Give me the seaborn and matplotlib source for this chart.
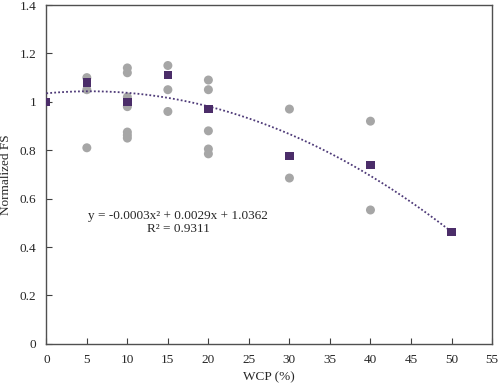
import matplotlib
matplotlib.use("Agg")
import matplotlib.pyplot as plt
import seaborn as sns
import pandas as pd
import numpy as np

sns.set_theme(style="white")
plt.rcParams['font.family'] = ['Liberation Serif', 'DejaVu Serif']

# individual specimens (grey dots)
wcp_all = [5, 5, 5,
           10, 10, 10, 10, 10, 10, 10,
           15, 15, 15,
           20, 20, 20, 20, 20,
           30, 30,
           40, 40]
fs_all = [1.10, 1.05, 0.81,
          1.14, 1.12, 1.02, 0.98, 0.875, 0.862, 0.85,
          1.15, 1.05, 0.96,
          1.09, 1.05, 0.88, 0.805, 0.785,
          0.97, 0.685,
          0.92, 0.553]

# mean values (purple squares)
wcp_mean = [0, 5, 10, 15, 20, 30, 40, 50]
fs_mean = [1.0, 1.08, 1.0, 1.11, 0.97, 0.777, 0.739, 0.461]

df_all = pd.DataFrame({'WCP': wcp_all, 'FS': fs_all})
df_mean = pd.DataFrame({'WCP': wcp_mean, 'FS': fs_mean})

fig, ax = plt.subplots(figsize=(4.98, 3.85), dpi=100)

sns.scatterplot(data=df_all, x='WCP', y='FS', color='#a6a6a6', s=42,
                edgecolor='none', marker='o', ax=ax, zorder=2)

# 2nd order polynomial trendline through the means
coef = np.polyfit(wcp_mean, fs_mean, 2)
xs = np.linspace(0, 50, 200)
ax.plot(xs, np.polyval(coef, xs), linestyle=(0, (1, 1.2)), color='#4e3a78',
        linewidth=1.3, zorder=3)

sns.scatterplot(data=df_mean, x='WCP', y='FS', color='#4b2d69', s=36,
                edgecolor='none', marker='s', ax=ax, zorder=4)

ax.text(16.3, 0.5, 'y = -0.0003x\u00b2 + 0.0029x + 1.0362\nR\u00b2 = 0.9311',
        ha='center', va='center', multialignment='center', fontsize=9.5,
        linespacing=1.15)

ax.set_xlim(0, 55)
ax.set_ylim(0, 1.4)
ax.set_xticks(range(0, 56, 5))
ax.set_yticks([0, 0.2, 0.4, 0.6, 0.8, 1.0, 1.2, 1.4])
ax.set_yticklabels(['0', '0.2', '0.4', '0.6', '0.8', '1', '1.2', '1.4'])
ax.tick_params(direction='in', length=4, width=0.8, color='#404040',
               labelsize=9.5, pad=7, bottom=True, left=True)
for sp in ax.spines.values():
    sp.set_color('#505050')
    sp.set_linewidth(1.0)
ax.set_xlabel('WCP (%)', fontsize=9.5, labelpad=4)
ax.set_ylabel('Normalized FS', fontsize=9.5, labelpad=6)

fig.subplots_adjust(left=0.093, right=0.988, top=0.987, bottom=0.107)
fig.savefig('out.png', dpi=100)
